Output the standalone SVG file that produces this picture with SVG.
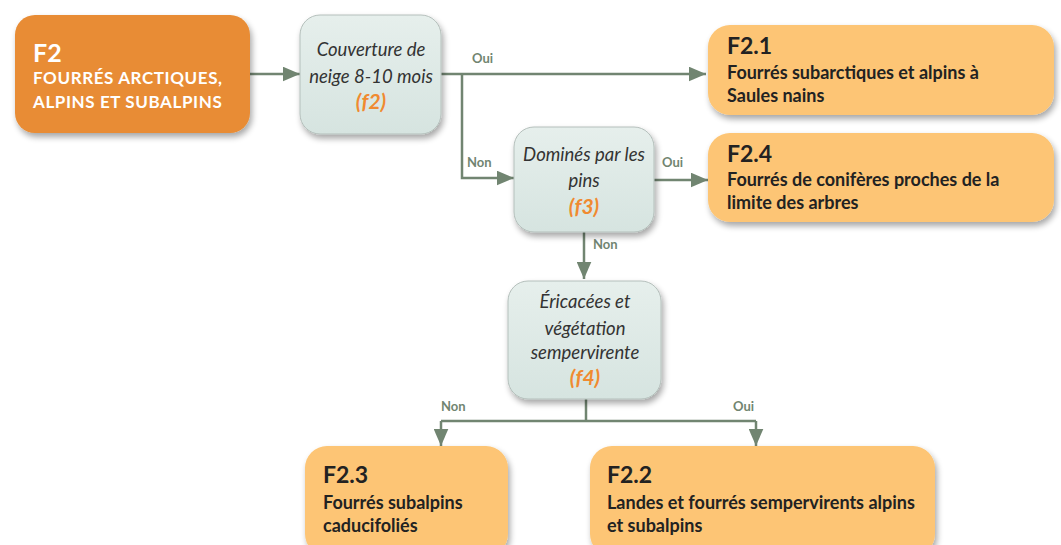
<svg xmlns="http://www.w3.org/2000/svg" width="1061" height="545" viewBox="0 0 1061 545">
<defs>
<filter id="sh" x="-10%" y="-10%" width="125%" height="135%">
<feGaussianBlur in="SourceAlpha" stdDeviation="3"/>
<feOffset dx="2" dy="4" result="b"/>
<feComponentTransfer><feFuncA type="linear" slope="0.35"/></feComponentTransfer>
<feMerge><feMergeNode/><feMergeNode in="SourceGraphic"/></feMerge>
</filter>
<linearGradient id="dg" x1="0" y1="0" x2="0" y2="1">
<stop offset="0" stop-color="#E6EFEC"/>
<stop offset="1" stop-color="#D6E4E0"/>
</linearGradient>
<marker id="ah" markerWidth="7" markerHeight="6" refX="7" refY="3" orient="auto" markerUnits="strokeWidth">
<path d="M0,0 L7,3 L0,6 Z" fill="#718571"/>
</marker>
<style>
.res{fill:#FDC574;filter:url(#sh)}
.dec{fill:url(#dg);stroke:#B4BFBB;stroke-width:1;filter:url(#sh)}
.t{font-family:Lato,"Open Sans",sans-serif;font-weight:bold;fill:#222}
.h{font-size:23px}
.b{font-size:18px}
.q{font-family:Lato,"Open Sans",sans-serif;font-style:italic;font-size:18.5px;fill:#333;text-anchor:middle}
.f{font-weight:bold;font-size:21px;fill:#F08A30}
.lab{font-family:Lato,"Open Sans",sans-serif;font-weight:bold;font-size:13px;fill:#718571}
.w{fill:#fff;font-size:17px;letter-spacing:0.6px}
.c{fill:none;stroke:#718571;stroke-width:2.5}
</style>
</defs>
<g id="connectors">
<path class="c" d="M250,74 H300" marker-end="url(#ah)"/>
<path class="c" d="M441,74 H706" marker-end="url(#ah)"/>
<path class="c" d="M462,74 V178 H514" marker-end="url(#ah)"/>
<path class="c" d="M654,180 H708" marker-end="url(#ah)"/>
<path class="c" d="M584,232 V279" marker-end="url(#ah)"/>
<path class="c" d="M586,399 V421"/>
<path class="c" d="M441,421 H756"/>
<path class="c" d="M441,421 V446" marker-end="url(#ah)"/>
<path class="c" d="M756,421 V446" marker-end="url(#ah)"/>
<text class="lab" x="472" y="63">Oui</text>
<text class="lab" x="467" y="167">Non</text>
<text class="lab" x="662" y="167">Oui</text>
<text class="lab" x="593" y="249">Non</text>
<text class="lab" x="441" y="411">Non</text>
<text class="lab" x="733" y="411">Oui</text>
</g>
<g id="F2">
<rect x="15" y="15" width="235" height="118" rx="20" fill="#E88C34" filter="url(#sh)"/>
<text class="t" x="33" y="62" style="fill:#fff;font-size:25px">F2</text>
<text class="t w" x="33" y="84">FOURRÉS ARCTIQUES,</text>
<text class="t w" x="33" y="108">ALPINS ET SUBALPINS</text>
</g>
<g id="f2">
<rect class="dec" x="300" y="15" width="141" height="119" rx="20"/>
<text class="q" x="371" y="56">Couverture de</text>
<text class="q" x="371" y="83">neige 8-10 mois</text>
<text class="q f" x="371" y="109">(f2)</text>
</g>
<g id="f3">
<rect class="dec" x="514" y="127" width="140" height="105" rx="20"/>
<text class="q" x="584" y="161">Dominés par les</text>
<text class="q" x="584" y="187">pins</text>
<text class="q f" x="584" y="214">(f3)</text>
</g>
<g id="f4">
<rect class="dec" x="508" y="281" width="153" height="118" rx="20"/>
<text class="q" x="585" y="308">Éricacées et</text>
<text class="q" x="585" y="335">végétation</text>
<text class="q" x="585" y="359">sempervirente</text>
<text class="q f" x="585" y="385">(f4)</text>
</g>
<g id="F2.1">
<rect class="res" x="708" y="25" width="346" height="90" rx="22"/>
<text class="t h" x="727" y="54">F2.1</text>
<text class="t b" x="727" y="79">Fourrés subarctiques et alpins à</text>
<text class="t b" x="727" y="102">Saules nains</text>
</g>
<g id="F2.4">
<rect class="res" x="708" y="133" width="346" height="89" rx="22"/>
<text class="t h" x="727" y="162">F2.4</text>
<text class="t b" x="727" y="186">Fourrés de conifères proches de la</text>
<text class="t b" x="727" y="209">limite des arbres</text>
</g>
<g id="F2.3">
<rect class="res" x="305" y="446" width="203" height="110" rx="22"/>
<text class="t h" x="323" y="483">F2.3</text>
<text class="t b" x="323" y="509">Fourrés subalpins</text>
<text class="t b" x="323" y="532">caducifoliés</text>
</g>
<g id="F2.2">
<rect class="res" x="590" y="446" width="345" height="110" rx="22"/>
<text class="t h" x="607" y="483">F2.2</text>
<text class="t b" x="607" y="509">Landes et fourrés sempervirents alpins</text>
<text class="t b" x="607" y="532">et subalpins</text>
</g>
</svg>
